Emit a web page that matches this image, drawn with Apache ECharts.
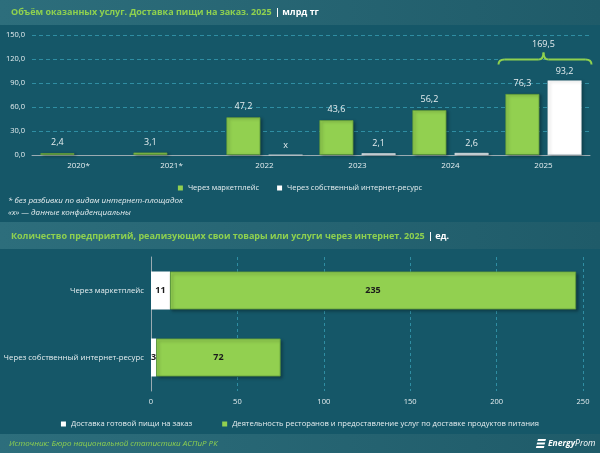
<!DOCTYPE html>
<html>
<head>
<meta charset="utf-8">
<script src="https://cdn.jsdelivr.net/npm/echarts@6/dist/echarts.min.js"></script>
<style>
  html, body { margin: 0; padding: 0; background: #155768; }
  #main { width: 600px; height: 453px; }
</style>
</head>
<body>
<div id="main"></div>
<script>
// --- chart 1: объём оказанных услуг, млрд тг
const years = ['2020*', '2021*', '2022', '2023', '2024', '2025'];
const marketplace = [2.4, 3.1, 47.2, 43.6, 56.2, 76.3];
const ownResource = [null, null, 0, 2.1, 2.6, 93.2];
const confidential = ['2022'];      // «x» — данные конфиденциальны
const yMax = 150;
const yStep = 30;

// --- chart 2: количество предприятий, ед.
const channels = ['Через маркетплейс', 'Через собственный интернет-ресурс'];
const readyFood = [11, 3];
const restaurants = [235, 72];
const xMax2 = 250;
const xStep2 = 50;

const FONT = '"Open Sans", sans-serif';
const GREEN = '#92d050';
const TXT = '#e6eef0';

const comma = (v, d) => v.toFixed(d).replace('.', ',');

const chart = echarts.init(document.getElementById('main'));

const bandGrad = new echarts.graphic.LinearGradient(0, 0, 1, 0, [
  { offset: 0, color: '#2d6e7c' },
  { offset: 1, color: '#1f5b69' }
]);

const option = {
  backgroundColor: '#155768',
  textStyle: { fontFamily: FONT },
  animation: false,
  grid: [
    { left: 32, right: 10, top: 35, height: 120, outerBoundsMode: 'none' },
    { left: 151, width: 432, top: 257, height: 134, outerBoundsMode: 'none' }
  ],
  xAxis: [
    {
      gridIndex: 0, type: 'category', data: years,
      axisLine: { lineStyle: { color: '#9aabb2', width: 1 } },
      axisTick: { show: false },
      axisLabel: { color: TXT, fontSize: 8, margin: 7 }
    },
    {
      gridIndex: 1, type: 'value', min: 0, max: xMax2, interval: xStep2,
      axisLine: { show: false }, axisTick: { show: false },
      splitLine: { lineStyle: { color: '#2f8ea3', type: [3, 3] } },
      axisLabel: { color: TXT, fontSize: 7.5, margin: 7 }
    }
  ],
  yAxis: [
    {
      gridIndex: 0, type: 'value', min: 0, max: yMax, interval: yStep,
      axisLine: { show: false }, axisTick: { show: false },
      splitLine: { lineStyle: { color: '#2f8ea3', type: [4, 3] } },
      axisLabel: { color: TXT, fontSize: 7.5, margin: 7, formatter: v => comma(v, 1) }
    },
    {
      gridIndex: 1, type: 'category', data: channels, inverse: true,
      axisLine: { lineStyle: { color: '#9aabb2', width: 1 } },
      axisTick: { show: false },
      axisLabel: { color: TXT, fontSize: 7.8, margin: 7 }
    }
  ],
  legend: [
    {
      data: ['Через маркетплейс', 'Через собственный интернет-ресурс'],
      top: 179, left: 'center', itemWidth: 5, itemHeight: 5, itemGap: 18,
      icon: 'rect', itemStyle: { borderWidth: 0, shadowBlur: 0 },
      textStyle: { color: TXT, fontSize: 7.5 }
    },
    {
      data: ['Доставка готовой пищи на заказ', 'Деятельность ресторанов и предоставление услуг по доставке продуктов питания'],
      top: 415, left: 'center', itemWidth: 5, itemHeight: 5, itemGap: 30,
      icon: 'rect', itemStyle: { borderWidth: 0, shadowBlur: 0 },
      textStyle: { color: TXT, fontSize: 7.6 }
    }
  ],
  series: [
    {
      name: 'Через маркетплейс', type: 'bar', xAxisIndex: 0, yAxisIndex: 0,
      data: marketplace, barWidth: 34, barGap: '24%',
      itemStyle: { color: GREEN, borderColor: '#5f9a3a', borderWidth: 0.8,
        shadowColor: 'rgba(0,0,0,0.35)', shadowBlur: 3, shadowOffsetX: 2, shadowOffsetY: 1 },
      label: { show: true, position: 'top', color: TXT, fontSize: 9, distance: 6,
        formatter: p => comma(p.value, 1) }
    },
    {
      name: 'Через собственный интернет-ресурс', type: 'bar', xAxisIndex: 0, yAxisIndex: 0,
      data: ownResource, barWidth: 34,
      itemStyle: { color: '#ffffff', borderColor: '#d8dde0', borderWidth: 0.5,
        shadowColor: 'rgba(0,0,0,0.35)', shadowBlur: 3, shadowOffsetX: 2, shadowOffsetY: 1 },
      label: { show: true, position: 'top', color: TXT, fontSize: 9, distance: 5,
        formatter: p => confidential.includes(p.name) ? 'x' : comma(p.value, 1) }
    },
    {
      name: 'Доставка готовой пищи на заказ', type: 'bar', xAxisIndex: 1, yAxisIndex: 1,
      stack: 'n', data: readyFood, barWidth: 38,
      itemStyle: { color: '#ffffff' },
      label: { show: true, position: 'inside', color: '#1b1b1b', fontSize: 9, fontWeight: 'bold' }
    },
    {
      name: 'Деятельность ресторанов и предоставление услуг по доставке продуктов питания',
      type: 'bar', xAxisIndex: 1, yAxisIndex: 1, stack: 'n', data: restaurants, barWidth: 38,
      itemStyle: { color: GREEN, borderColor: '#5f9a3a', borderWidth: 0.8,
        shadowColor: 'rgba(0,0,0,0.35)', shadowBlur: 3, shadowOffsetX: 2, shadowOffsetY: 2 },
      label: { show: true, position: 'inside', color: '#1b1b1b', fontSize: 9, fontWeight: 'bold' }
    }
  ]
};

chart.setOption(option);

// brace over the last year with the sum of both channels
const last = years.length - 1;
const total = marketplace[last] + ownResource[last];
const cx = chart.convertToPixel({ xAxisIndex: 0 }, last);
const topVal = Math.max(marketplace[last], ownResource[last]);
const yTop = chart.convertToPixel({ yAxisIndex: 0 }, topVal);
const x1 = cx - 45, x2 = cx + 48;
const yb = yTop - 16, yt = yb - 5, tip = yt - 7;
const braceStyle = { stroke: '#8fd14f', lineWidth: 2, fill: null };

const brace = [
  { type: 'bezierCurve', shape: { x1: x1, y1: yb, cpx1: x1, cpy1: yt, x2: x1 + 6, y2: yt }, style: braceStyle },
  { type: 'line', shape: { x1: x1 + 6, y1: yt, x2: cx - 5, y2: yt }, style: braceStyle },
  { type: 'bezierCurve', shape: { x1: cx - 5, y1: yt, cpx1: cx, cpy1: yt, x2: cx, y2: tip }, style: braceStyle },
  { type: 'bezierCurve', shape: { x1: cx, y1: tip, cpx1: cx, cpy1: yt, x2: cx + 5, y2: yt }, style: braceStyle },
  { type: 'line', shape: { x1: cx + 5, y1: yt, x2: x2 - 6, y2: yt }, style: braceStyle },
  { type: 'bezierCurve', shape: { x1: x2 - 6, y1: yt, cpx1: x2, cpy1: yt, x2: x2, y2: yb }, style: braceStyle },
  {
    type: 'text', x: cx, y: tip - 4,
    style: { text: comma(total, 1), fill: TXT, fontSize: 9, align: 'center', verticalAlign: 'bottom', fontFamily: FONT }
  }
];

const titleRich = {
  g: { fill: '#8fd14f', fontSize: 9, fontWeight: 'bold', fontFamily: FONT },
  w: { fill: '#ffffff', fontSize: 9, fontWeight: 'bold', fontFamily: FONT }
};

chart.setOption({
  graphic: [
    // title bars
    { type: 'rect', x: 0, y: 0, shape: { width: 600, height: 25 }, style: { fill: bandGrad }, z: -1 },
    { type: 'rect', x: 0, y: 222, shape: { width: 600, height: 27 }, style: { fill: bandGrad }, z: -1 },
    { type: 'rect', x: 0, y: 434, shape: { width: 600, height: 19 }, style: { fill: bandGrad }, z: -1 },
    {
      type: 'text', x: 11, y: 12,
      style: { text: '{g|Объём оказанных услуг. Доставка пищи на заказ. 2025} {w|| млрд тг}',
        rich: titleRich, verticalAlign: 'middle' }
    },
    {
      type: 'text', x: 11, y: 236,
      style: { text: '{g|Количество предприятий, реализующих свои товары или услуги через интернет. 2025} {w|| ед.}',
        rich: titleRich, verticalAlign: 'middle' }
    },
    // footnotes
    {
      type: 'text', x: 8, y: 195,
      style: { text: '* без разбивки по видам интернет-площадок\n«x» — данные конфиденциальны',
        fill: '#e6eef0', fontSize: 8, fontStyle: 'italic', lineHeight: 12, fontFamily: FONT }
    },
    // source
    {
      type: 'text', x: 9, y: 444,
      style: { text: 'Источник: Бюро национальной статистики АСПиР РК', verticalAlign: 'middle',
        fill: '#8fd14f', fontSize: 8, fontStyle: 'italic', fontFamily: FONT }
    },
    // logo
    {
      type: 'group', x: 536, y: 439,
      children: [
        { type: 'polygon', shape: { points: [[2, 0], [10, 0], [9.4, 2], [1.4, 2]] }, style: { fill: '#ffffff' } },
        { type: 'polygon', shape: { points: [[1.2, 3.5], [9.2, 3.5], [8.6, 5.5], [0.6, 5.5]] }, style: { fill: '#ffffff' } },
        { type: 'polygon', shape: { points: [[0.4, 7], [8.4, 7], [7.8, 9], [-0.2, 9]] }, style: { fill: '#ffffff' } },
        {
          type: 'text', x: 12, y: 5,
          style: {
            text: '{b|Energy}{l|Prom}', verticalAlign: 'middle',
            rich: {
              b: { fill: '#ffffff', fontSize: 8.5, fontWeight: 'bold', fontStyle: 'italic', fontFamily: FONT },
              l: { fill: '#ffffff', fontSize: 8.5, fontStyle: 'italic', fontFamily: FONT }
            }
          }
        }
      ]
    }
  ].concat(brace)
});
</script>
</body>
</html>
